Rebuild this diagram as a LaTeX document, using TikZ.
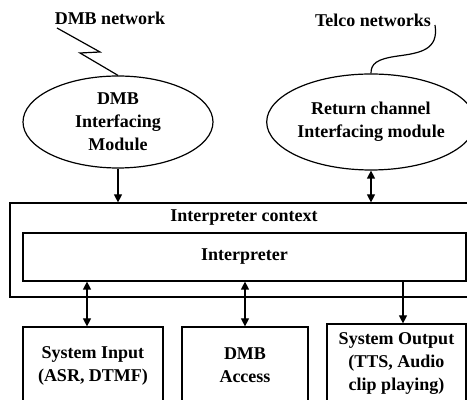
\documentclass[tikz,border=0pt]{standalone}
\usepackage{fontspec}
\setmainfont{Liberation Serif}
\usepackage{tikz}
\usetikzlibrary{positioning}
\usetikzlibrary{calc,arrows.meta}
\usetikzlibrary{shapes.geometric}

\begin{document}
\begin{tikzpicture}[x=0.5pt,y=-0.5pt,line width=0.6pt,
    every node/.style={font=\fontsize{9}{11.5}\selectfont\bfseries, align=center},
    module/.style={draw, ellipse, inner sep=0pt},
    block/.style={draw, rectangle, inner sep=0pt},
    link/.style={-{Triangle[length=4pt,width=4pt]}},
    duplex/.style={{Triangle[length=4pt,width=4pt]}-{Triangle[length=4pt,width=4pt]}}]

	% NOTE: the picture is cut off on the right and at the bottom
	\clip (0,0) rectangle (467,400);

	% The two interfacing modules
	\node[module, minimum width=95pt, minimum height=46pt] (dmb) at (118,122) {DMB\\Interfacing\\Module};
	\node[module, minimum width=96pt, minimum height=48pt] (ret) at (371,122) {Return channel\\Interfacing module};

	% Networks on top, with a bolt and a wire
	\node (dmbnet) at (110,18) {DMB network};
	\node (telco) at (373,20) {Telco networks};

	\coordinate (boltA) at (57,28);
	\coordinate (boltB) at (100,52);
	\coordinate (boltC) at (80,53);
	\draw (boltA) -- (boltB) -- (boltC) -- (dmb.north);

	\coordinate (wireA) at (435,25);
	\draw (wireA) .. controls (439,50) and (420,53) .. (398,56)
	              .. controls (376,59) and (371,64) .. (ret.north);

	%%%%%%%%%%%%%%%%%%%%%%%%%%%%%%%%%%%%%%%%%%%%%%%%%%%%%%%%%%%%%%
	% Interpreter context and interpreter
	\node[block, minimum width=234pt, minimum height=47pt] (ctx) at (244,250) {};
	\node[anchor=north] (ctxlabel) at (ctx.north) {Interpreter context};
	\node[block, minimum width=221.5pt, minimum height=24pt] (interp) at (244.5,257) {Interpreter};

	% Blocks at the bottom
	\node[block, minimum width=70pt, minimum height=38.5pt] (sysin) at (93,365.5) {System Input\\(ASR, DTMF)};
	\node[block, minimum width=63pt, minimum height=38.5pt] (access) at (245,365.5) {DMB\\Access};
	\node[block, minimum width=69.5pt, minimum height=40pt] (sysout) at (396.5,364) {System Output\\(TTS, Audio\\clip playing)};

	% Arrows
	\draw[link] (dmb.south) -- (dmb.south |- ctx.north);
	\draw[duplex] (ret.south) -- (ret.south |- ctx.north);

	\coordinate (inTop) at ([xshift=-3pt]sysin.north);
	\coordinate (outTop) at ([xshift=3.25pt]sysout.north);
	\draw[duplex] (interp.south -| inTop) -- (inTop);
	\draw[duplex] (interp.south -| access.north) -- (access.north);
	\draw[link] (interp.south -| outTop) -- (outTop);

\end{tikzpicture}
\end{document}
